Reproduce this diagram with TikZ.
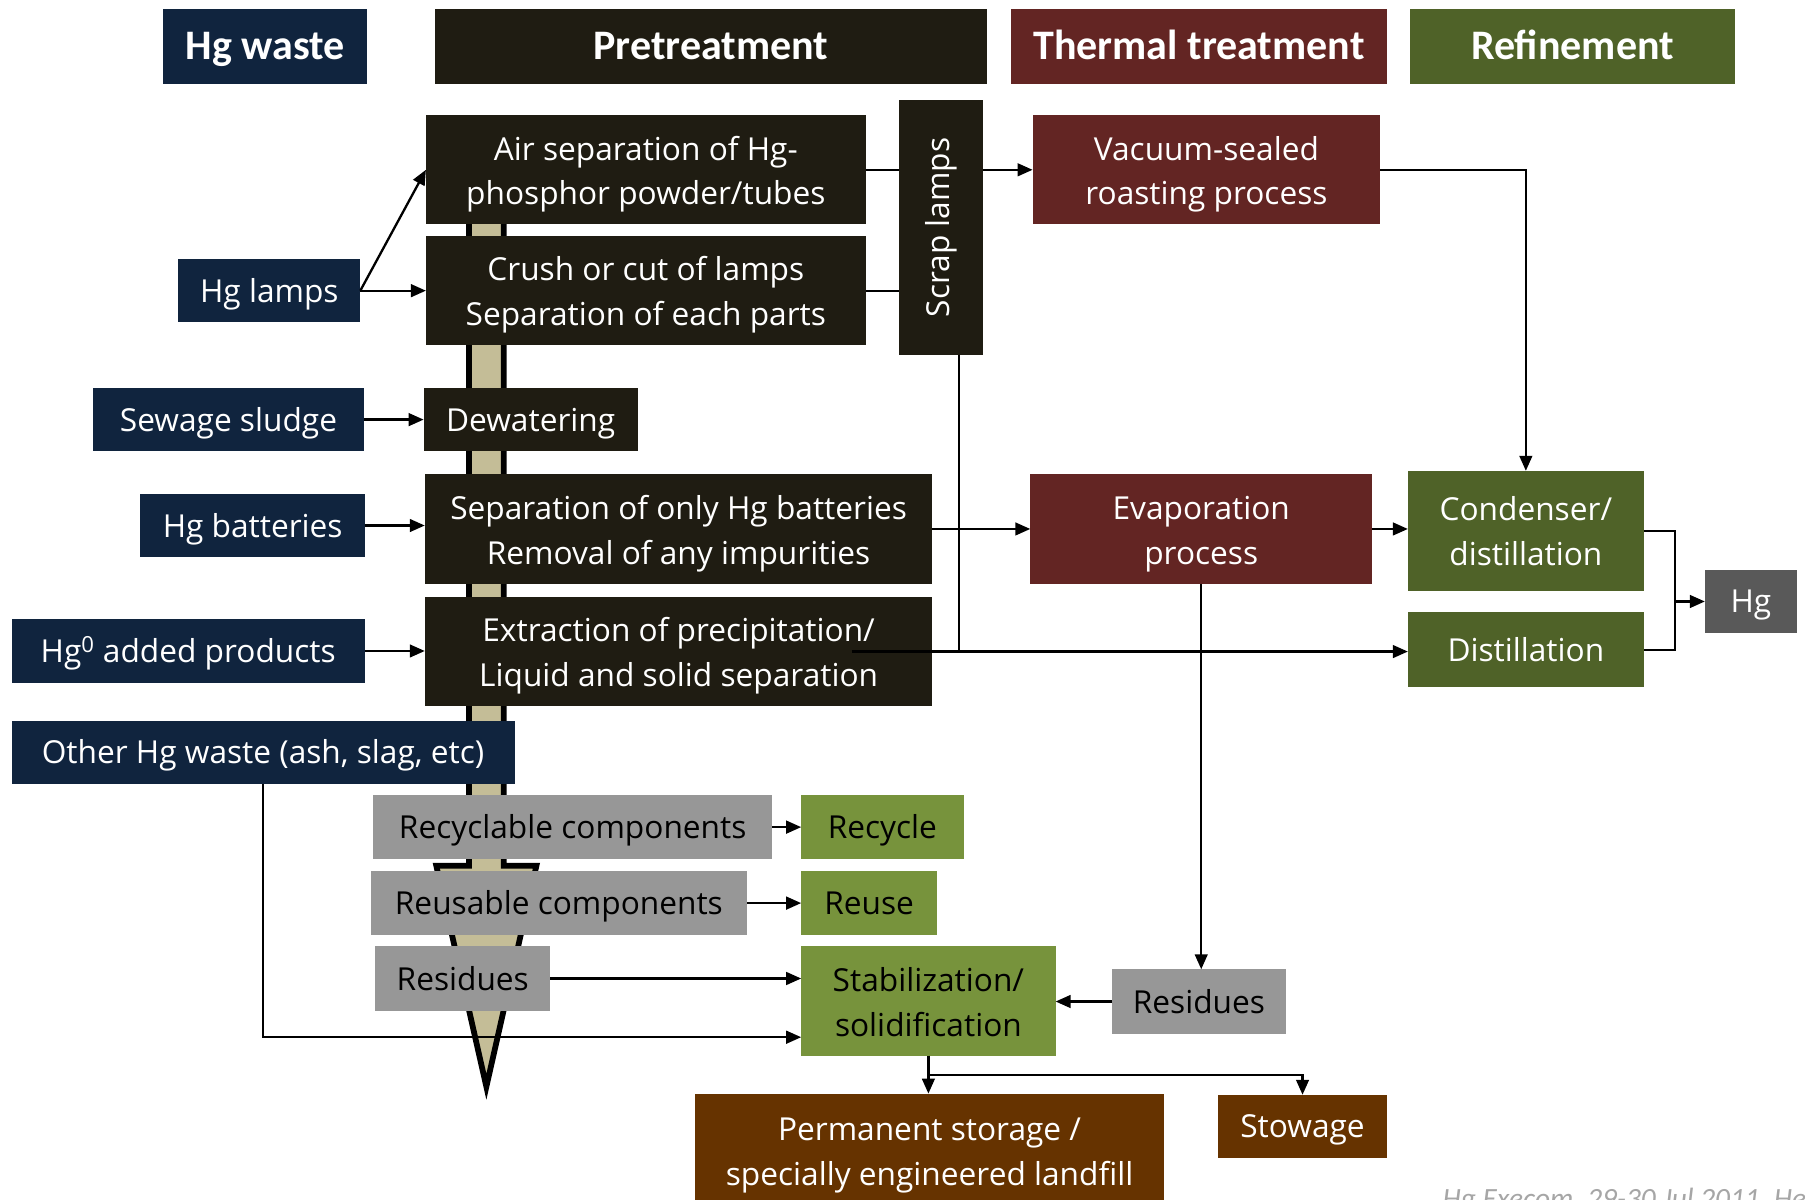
\documentclass[tikz,border=0pt]{standalone}
\usepackage{fontspec}
\setmainfont{Open Sans}
\newfontfamily\hdfont{Carlito}
\usetikzlibrary{arrows.meta,calc}
\definecolor{navy}{HTML}{10243E}
\definecolor{dark}{HTML}{1F1C12}
\definecolor{thermal}{HTML}{632523}
\definecolor{refine}{HTML}{4F6228}
\definecolor{lgreen}{HTML}{77933C}
\definecolor{grayb}{HTML}{979797}
\definecolor{brownb}{HTML}{663300}
\definecolor{hgbox}{HTML}{595959}
\definecolor{beige}{HTML}{C4BD97}
\definecolor{foot}{HTML}{A6A6A6}
\newcommand\bodyfs{\fontsize{27.5}{39}\selectfont}
\newcommand\hdfs{\hdfont\bfseries\fontsize{36.5}{44}\selectfont}
\newcommand\hstrut{\rule[-8pt]{0pt}{38pt}}
\tikzset{
  bx/.style={inner sep=0pt, outer sep=0pt, align=center, font=\bodyfs, text=white,
    text height=27pt, text depth=7pt},
  two/.style={text height=68pt, text depth=7pt},
  sz/.style 2 args={minimum width=#1pt, minimum height=#2pt},
  nv/.style={bx, fill=navy},
  dk/.style={bx, fill=dark},
  th/.style={bx, fill=thermal},
  rf/.style={bx, fill=refine},
  gy/.style={bx, fill=grayb, text=black},
  lg/.style={bx, fill=lgreen, text=black},
  br/.style={bx, fill=brownb},
  hd/.style={inner sep=0pt, outer sep=0pt, font=\hdfs, text=white, minimum height=65pt,
    execute at begin node=\hstrut},
  arr/.style={-{Triangle[length=13pt,width=11pt]}, line width=2pt},
  ln/.style={line width=2pt},
}
\begin{document}
\begin{tikzpicture}[x=1pt,y=-1pt]
\useasboundingbox (0,0) rectangle (1568,1042);
\clip (0,0) rectangle (1568,1042);
\fill[white] (0,0) rectangle (1568,1042);
% big process arrow
\draw[line width=5pt, fill=beige, line join=miter] (407.5,150) -- (407.5,752) -- (379,752) -- (422.5,944) -- (466,752) -- (437.5,752) -- (437.5,150) -- cycle;
% headers
\node[hd, fill=navy, minimum width=177pt] (h1) at (230.5,40.5) {Hg waste};
\node[hd, fill=dark, minimum width=479pt] (h2) at (617.5,40.5) {Pretreatment};
\node[hd, fill=thermal, minimum width=327pt] (h3) at (1041.5,40.5) {Thermal treatment};
\node[hd, fill=refine, minimum width=282pt] (h4) at (1366,40.5) {Refinement};
% waste inputs
\node[nv, sz={158}{55}] (lamps) at (234,252.5) {Hg lamps};
\node[nv, sz={235}{55}] (sludge) at (198.5,364.5) {Sewage sludge};
\node[nv, sz={195}{55}] (batt) at (219.5,456.5) {Hg batteries};
\node[nv, sz={307}{55}] (prod) at (163.5,565.5) {Hg\textsuperscript{0} added products};
\node[nv, sz={437}{55}] (other) at (228.5,653.5) {Other Hg waste (ash, slag, etc)};
% pretreatment
\node[dk, two, sz={382}{95}] (air) at (561,147.5) {Air separation of Hg-\\phosphor powder/tubes};
\node[dk, two, sz={382}{95}] (crush) at (561,252.5) {Crush or cut of lamps\\Separation of each parts};
\node[dk, sz={186}{55}] (dew) at (461,364.5) {Dewatering};
\node[dk, two, sz={441}{95}] (sep) at (589.5,459.5) {Separation of only Hg batteries\\Removal of any impurities};
\node[dk, two, sz={441}{94}] (extr) at (589.5,566) {Extraction of precipitation/\\Liquid and solid separation};
\node[dk, sz={73}{221}] (scrap) at (817.5,197.5) {};
\node[rotate=90, inner sep=0pt, font=\bodyfs, text=white] (scraptxt) at (818,197.5) {Scrap lamps};
% thermal
\node[th, two, sz={302}{95}] (vac) at (1048,147.5) {Vacuum-sealed\\roasting process};
\node[th, two, sz={297}{95}] (evap) at (1043.5,459.5) {Evaporation\\process};
% refinement
\node[rf, two, sz={205}{104}] (cond) at (1325.5,461) {Condenser/\\distillation};
\node[rf, sz={205}{65}] (dist) at (1325.5,564.5) {Distillation};
\node[bx, fill=hgbox, sz={80}{55}] (hg) at (1521,522.5) {Hg};
% outputs
\node[gy, sz={347}{55}] (recyc) at (497.5,718.5) {Recyclable components};
\node[gy, sz={327}{55}] (reus) at (485.5,784.5) {Reusable components};
\node[gy, sz={152}{56}] (resL) at (402,850) {Residues};
\node[gy, sz={151}{56}] (resR) at (1041.5,870) {Residues};
\node[lg, sz={141}{55}] (recycle) at (766.5,718.5) {Recycle};
\node[lg, sz={118}{55}] (reuse) at (755,784.5) {Reuse};
\node[lg, two, sz={221}{95}] (stab) at (806.5,869.5) {Stabilization/\\solidification};
\node[br, two, sz={407}{98}] (perm) at (807.5,999) {Permanent storage /\\specially engineered landfill};
\node[br, sz={147}{55}] (stow) at (1131.5,978.5) {Stowage};
\node[anchor=base west, inner sep=0pt, font=\hdfont\itshape\fontsize{25.5}{30}\selectfont, text=foot] (footer) at (1253,1050) {Hg Execom, 29-30 Jul 2011, He};
% connectors
\draw[arr] (lamps.east) -- (air.west);
\draw[arr] (lamps.east) -- (crush.west);
\draw[arr] (sludge.east) -- (sludge.east -| dew.west);
\draw[arr] (batt.east) -- (batt.east -| sep.west);
\draw[arr] (prod.east) -- (prod.east -| extr.west);
\draw[ln] (air.east) -- (air.east -| scrap.west);
\draw[ln] (crush.east) -- (crush.east -| scrap.west);
\draw[arr] (air.east -| scrap.east) -- (air.east -| vac.west);
\draw[arr] (vac.east) -| (cond.north);
\draw[arr] (sep.east) -- (sep.east -| evap.west);
\draw[arr] (evap.east) -- (evap.east -| cond.west);
\coordinate (xs) at (740,566);
\coordinate (sl) at (833,308);
\draw[ln] (sl) -- (sl |- xs);
\draw[arr] (xs) -- (xs -| dist.west);
\coordinate (j) at (1455,522.5);
\draw[ln] (cond.east) -| (j);
\draw[ln] (dist.east) -| (j);
\draw[arr] (j) -- (hg.west);
\draw[arr] (evap.south) -- (evap.south |- resR.north);
\draw[arr] (recyc.east) -- (recyc.east -| recycle.west);
\draw[arr] (reus.east) -- (reus.east -| reuse.west);
\draw[arr] (resL.east) -- (resL.east -| stab.west);
\draw[arr] (other.south) |- ([yshift=-31.5pt]stab.west);
\draw[arr] (resR.west) -- (resR.west -| stab.east);
\draw[arr] (stab.south) -- (stab.south |- perm.north);
\coordinate (sb) at (806.5,934);
\draw[arr] (sb) -| (stow.north);
\end{tikzpicture}
\end{document}
